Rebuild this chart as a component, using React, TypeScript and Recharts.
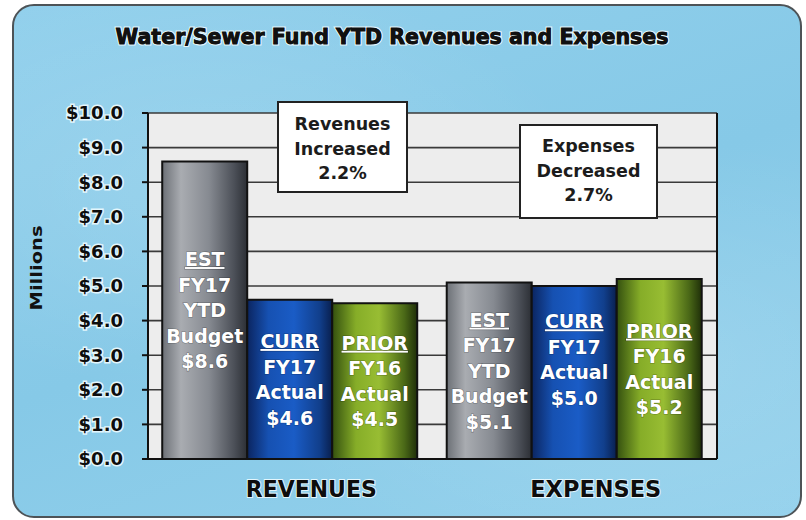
import React from "react";
import { BarChart, Bar, XAxis, YAxis, CartesianGrid, LabelList } from "recharts";

const categories = ["REVENUES", "EXPENSES"];
const budgetValues = [8.6, 5.1];
const currentValues = [4.6, 5.0];
const priorValues = [4.5, 5.2];

const budgetLines = [["EST", "FY17", "YTD", "Budget"], ["EST", "FY17", "YTD", "Budget"]];
const currentLines = [["CURR", "FY17", "Actual"], ["CURR", "FY17", "Actual"]];
const currentTrailing = [[], [""]];
const priorLines = [["PRIOR", "FY16", "Actual"], ["PRIOR", "FY16", "Actual"]];

const leftTicks = [0, 1, 2, 3, 4, 5, 6, 7, 8, 9, 10];
const rightTicks = [0, 10, 20, 30, 40, 50];

const title = "Water/Sewer Fund YTD Revenues and Expenses";
const yTitle = "Millions";
const revenueNote = ["Revenues", "Increased", "2.2%"];
const expenseNote = ["Expenses", "Decreased", "2.7%"];

const data = categories.map((c, i) => ({
  name: c,
  budget: budgetValues[i],
  current: currentValues[i],
  prior: priorValues[i],
}));

const FONT = "'DejaVu Sans', Arial, sans-serif";

const makeLabel = (linesArr: string[][], trailing?: string[][]) => (props: any) => {
  const { x, y, width, height, value, index } = props;
  const lines = [...linesArr[index], "$" + Number(value).toFixed(1), ...(trailing ? trailing[index] : [])];
  const lh = 25.5;
  const cx = x + width / 2;
  const cy = y + height / 2;
  const n = lines.length;
  return (
    <g>
      {lines.map((l, i) => (
        <text
          key={i}
          x={cx}
          y={cy + (i - (n - 1) / 2) * lh}
          dy="0.36em"
          textAnchor="middle"
          fontFamily={FONT}
          fontWeight="bold"
          fontSize={19}
          fill="#ffffff"
          stroke="rgba(0,0,0,0.3)"
          strokeWidth={1.2}
          paintOrder="stroke"
          style={i === 0 ? { textDecoration: "underline" } : undefined}
        >
          {l}
        </text>
      ))}
    </g>
  );
};

const LeftTick = (props: any) => {
  const { x, y, payload } = props;
  return (
    <text x={x} y={y} dy="0.36em" textAnchor="end" fontFamily={FONT} fontWeight="bold" fontSize={18}
      fill="#0d0d0d" stroke="#e4f6fc" strokeWidth={3} paintOrder="stroke">
      {"$" + Number(payload.value).toFixed(1)}
    </text>
  );
};

const RightTick = (props: any) => {
  const { x, y, payload } = props;
  return (
    <text x={x} y={y} dy="0.36em" textAnchor="start" fontFamily={FONT} fontWeight="bold" fontSize={18}
      fill="#0d0d0d" stroke="#e4f6fc" strokeWidth={3} paintOrder="stroke">
      {payload.value + "%"}
    </text>
  );
};

const XTick = (props: any) => {
  const { x, y, payload } = props;
  return (
    <text x={x + 21} y={y + 38} textAnchor="middle" fontFamily={FONT} fontWeight="bold" fontSize={23}
      textLength={131} lengthAdjust="spacingAndGlyphs"
      fill="#0d0d0d" stroke="#e4f6fc" strokeWidth={2} paintOrder="stroke">
      {payload.value}
    </text>
  );
};

const NoteBox = ({ x, y, w, h, lines, baseline }: any) => (
  <g>
    <rect x={x} y={y} width={w} height={h} fill="#ffffff" stroke="#222" strokeWidth={2} />
    {lines.map((l: string, i: number) => (
      <text key={i} x={x + w / 2} y={baseline + i * 24.5} textAnchor="middle" fontFamily={FONT}
        fontWeight="bold" fontSize={17.5} fill="#1c1c1c">
        {l}
      </text>
    ))}
  </g>
);

export default function App() {
  return (
    <div style={{ position: "absolute", left: 0, top: 0, width: 806, height: 520, background: "#ffffff", overflow: "hidden" }}>
      <div
        style={{
          position: "absolute",
          left: 12,
          top: 4,
          width: 786,
          height: 510,
          borderRadius: 22,
          border: "2px solid #4d5357",
          background:
            "radial-gradient(ellipse at 25% 35%, rgba(255,255,255,0.12), rgba(255,255,255,0) 45%), radial-gradient(ellipse at 80% 70%, rgba(255,255,255,0.12), rgba(255,255,255,0) 45%), linear-gradient(160deg, #92d0ec 0%, #86c9e7 50%, #94d1ec 100%)",
        }}
      />
      <div style={{ position: "absolute", left: 0, top: 0 }}>
        <BarChart
          width={806}
          height={520}
          data={data}
          margin={{ top: 113, right: 0, bottom: 0, left: 0 }}
          barCategoryGap="5%"
          barGap={0}
        >
          <defs>
            <linearGradient id="gGray" x1="0" y1="0" x2="1" y2="0">
              <stop offset="0%" stopColor="#6c7076" />
              <stop offset="22%" stopColor="#a9acb1" />
              <stop offset="55%" stopColor="#868a91" />
              <stop offset="85%" stopColor="#4b4f57" />
              <stop offset="100%" stopColor="#2c2f35" />
            </linearGradient>
            <linearGradient id="gBlue" x1="0" y1="0" x2="1" y2="0">
              <stop offset="0%" stopColor="#0b2560" />
              <stop offset="25%" stopColor="#1651b2" />
              <stop offset="55%" stopColor="#1a5cc6" />
              <stop offset="85%" stopColor="#113f8c" />
              <stop offset="100%" stopColor="#091f4e" />
            </linearGradient>
            <linearGradient id="gGreen" x1="0" y1="0" x2="1" y2="0">
              <stop offset="0%" stopColor="#34500f" />
              <stop offset="28%" stopColor="#86ad28" />
              <stop offset="55%" stopColor="#98bd33" />
              <stop offset="85%" stopColor="#4a6817" />
              <stop offset="100%" stopColor="#1f2f09" />
            </linearGradient>
          </defs>
          <CartesianGrid vertical={false} stroke="#3a3a3a" strokeWidth={1.6} fill="#ededed" fillOpacity={1} yAxisId="left" />
          <XAxis
            dataKey="name"
            height={61}
            tickLine={false}
            tickSize={0}
            tickMargin={0}
            axisLine={{ stroke: "#111", strokeWidth: 2 }}
            tick={<XTick />}
            interval={0}
          />
          <YAxis
            yAxisId="left"
            orientation="left"
            width={148}
            domain={[0, 10]}
            ticks={leftTicks}
            interval={0}
            tickSize={6}
            tickMargin={19}
            axisLine={{ stroke: "#111", strokeWidth: 2 }}
            tickLine={{ stroke: "#111", strokeWidth: 2 }}
            tick={<LeftTick />}
          />
          <YAxis
            yAxisId="right"
            orientation="right"
            width={89}
            domain={[0, 50]}
            ticks={rightTicks}
            interval={0}
            tickSize={6}
            tickMargin={12}
            axisLine={{ stroke: "#111", strokeWidth: 2 }}
            tickLine={{ stroke: "#111", strokeWidth: 2 }}
            tick={<RightTick />}
          />
          <Bar yAxisId="left" dataKey="budget" fill="url(#gGray)" stroke="#111" strokeWidth={2} isAnimationActive={false}>
            <LabelList dataKey="budget" content={makeLabel(budgetLines)} />
          </Bar>
          <Bar yAxisId="left" dataKey="current" fill="url(#gBlue)" stroke="#111" strokeWidth={2} isAnimationActive={false}>
            <LabelList dataKey="current" content={makeLabel(currentLines, currentTrailing)} />
          </Bar>
          <Bar yAxisId="left" dataKey="prior" fill="url(#gGreen)" stroke="#111" strokeWidth={2} isAnimationActive={false}>
            <LabelList dataKey="prior" content={makeLabel(priorLines)} />
          </Bar>
        </BarChart>
      </div>
      <svg width={806} height={520} style={{ position: "absolute", left: 0, top: 0, pointerEvents: "none" }}>
        <text x={392} y={44} textAnchor="middle" fontFamily={FONT} fontWeight="bold" fontSize={21}
          textLength={553} lengthAdjust="spacingAndGlyphs" fill="#111" stroke="#e4f6fc" strokeWidth={3} paintOrder="stroke">
          {title}
        </text>
        <text x={392} y={44} textAnchor="middle" fontFamily={FONT} fontWeight="bold" fontSize={21}
          textLength={553} lengthAdjust="spacingAndGlyphs" fill="#111" stroke="#111" strokeWidth={0.8}>
          {title}
        </text>
        <text x={0} y={0} transform="translate(42,268) rotate(-90)" textAnchor="middle" fontFamily={FONT}
          fontWeight="bold" fontSize={16} textLength={85} lengthAdjust="spacingAndGlyphs" fill="#111">
          {yTitle}
        </text>
        <NoteBox x={278} y={102} w={129} h={90} lines={revenueNote} baseline={130} />
        <NoteBox x={520} y={125} w={137} h={93} lines={expenseNote} baseline={152} />
      </svg>
    </div>
  );
}
